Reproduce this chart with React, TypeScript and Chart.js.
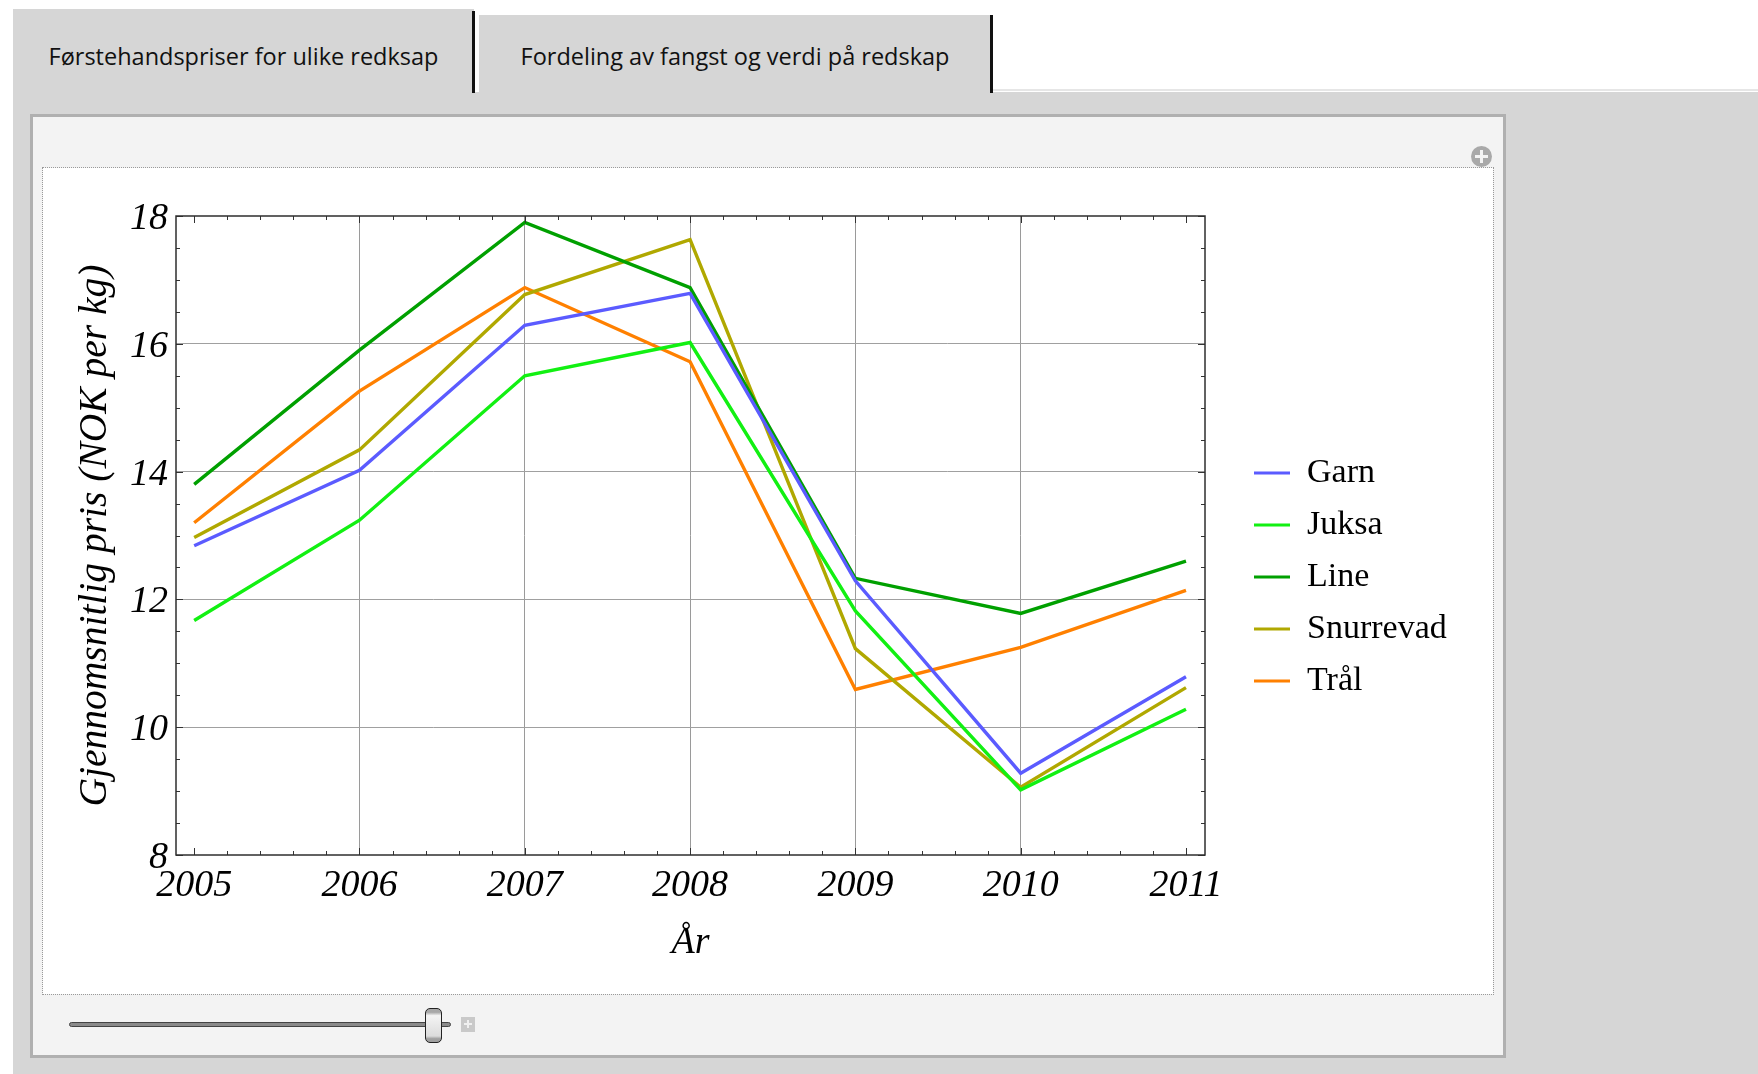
import React, { useEffect, useRef } from "react";
import { Chart, registerables } from "chart.js";

Chart.register(...registerables);

// ---- data ----
const YEARS = [2005, 2006, 2007, 2008, 2009, 2010, 2011];
const Y_TICKS = [8, 10, 12, 14, 16, 18];
const SERIES_NAMES = ["Garn", "Juksa", "Line", "Snurrevad", "Trål"];
const GARN = [12.84, 14.02, 16.29, 16.79, 12.29, 9.28, 10.79];
const JUKSA = [11.67, 13.24, 15.5, 16.02, 11.82, 9.02, 10.28];
const LINE = [13.8, 15.9, 17.9, 16.88, 12.33, 11.78, 12.6];
const SNURREVAD = [12.97, 14.34, 16.77, 17.63, 11.23, 9.06, 10.62];
const TRAL = [13.2, 15.26, 16.88, 15.72, 10.59, 11.25, 12.14];
const SERIES_VALUES = [GARN, JUKSA, LINE, SNURREVAD, TRAL];
const COLORS = ["#5b5bff", "#12f012", "#00a000", "#b0a800", "#ff8000"];

const TAB_LABELS = ["Førstehandspriser for ulike redksap", "Fordeling av fangst og verdi på redskap"];
const X_TITLE = "År";
const Y_TITLE = "Gjennomsnitlig pris (NOK per kg)";

const SERIF = "'Liberation Serif', 'Times New Roman', serif";
const SANS = "'Open Sans', 'Noto Sans', sans-serif";

const CANVAS_W = 1450;
const CANVAS_H = 826;
const LEGEND_FONT = 34;
const LEGEND_BOX = 36;
const LEGEND_PAD = 18;

const framePlugin = {
  id: "frameTicks",
  afterDatasetsDraw(chart: any) {
    const { ctx, chartArea: a, scales } = chart;
    const xs = scales.x;
    const ys = scales.y;
    ctx.save();
    ctx.strokeStyle = "#333";
    ctx.lineWidth = 1;
    const seg = (x1: number, y1: number, x2: number, y2: number) => {
      ctx.beginPath();
      ctx.moveTo(x1, y1);
      ctx.lineTo(x2, y2);
      ctx.stroke();
    };
    for (const yr of YEARS) {
      for (let k = 0; k < 5; k++) {
        const v = yr + k * 0.2;
        if (v > xs.max || v < xs.min) continue;
        const px = Math.round(xs.getPixelForValue(v)) + 0.5;
        const len = k === 0 ? 7 : 4;
        seg(px, a.bottom, px, a.bottom - len);
        seg(px, a.top, px, a.top + len);
      }
    }
    for (const t of Y_TICKS) {
      for (let k = 0; k < 4; k++) {
        const v = t + k * 0.5;
        if (v > ys.max) continue;
        const py = Math.round(ys.getPixelForValue(v)) + 0.5;
        const len = k === 0 ? 7 : 4;
        seg(a.left, py, a.left + len, py);
        seg(a.right, py, a.right - len, py);
      }
    }
    ctx.lineWidth = 1.5;
    ctx.strokeStyle = "#2e2e2e";
    ctx.strokeRect(a.left, a.top, a.right - a.left, a.bottom - a.top);
    ctx.restore();
  },
};

function PriceChart() {
  const ref = useRef<HTMLCanvasElement | null>(null);
  useEffect(() => {
    if (!ref.current) return;
    // measure legend width so the legend sits at a fixed spot
    const mctx = ref.current.getContext("2d") as CanvasRenderingContext2D;
    mctx.font = `${LEGEND_FONT}px ${SERIF}`;
    const maxText = Math.max(...SERIES_NAMES.map((n) => mctx.measureText(n).width));
    const legendW = LEGEND_PAD + LEGEND_BOX + LEGEND_FONT / 2 + maxText + 10;
    const chartRight = 1162;
    const spacer = 31;
    const rightPad = Math.max(0, CANVAS_W - chartRight - spacer - legendW);

    const datasets = SERIES_NAMES.map((name, i) => ({
      label: name,
      data: YEARS.map((yr, j) => ({ x: yr, y: SERIES_VALUES[i][j] })),
      borderColor: COLORS[i],
      backgroundColor: COLORS[i],
      borderWidth: 3.4,
      pointRadius: 0,
      tension: 0,
    }));
    const chart = new Chart(ref.current, {
      type: "line",
      data: { datasets },
      plugins: [framePlugin],
      options: {
        animation: false,
        responsive: false,
        events: [],
        layout: { padding: { top: 48, right: rightPad, bottom: 56, left: 0 } },
        plugins: {
          tooltip: { enabled: false },
          legend: {
            position: "right",
            align: "center",
            labels: {
              boxWidth: LEGEND_BOX,
              boxHeight: 3,
              padding: LEGEND_PAD,
              color: "#000",
              font: { family: SERIF, size: LEGEND_FONT },
              generateLabels: (c: any) =>
                (Chart as any).defaults.plugins.legend.labels
                  .generateLabels(c)
                  .map((l: any) => ({ ...l, lineWidth: 0, fillStyle: l.strokeStyle })),
            },
          },
        },
        scales: {
          x: {
            type: "linear",
            min: 2004.89,
            max: 2011.115,
            afterBuildTicks: (s: any) => {
              s.ticks = YEARS.map((v) => ({ value: v }));
            },
            afterFit: (s: any) => {
              s.height = 83;
            },
            ticks: {
              autoSkip: false,
              maxRotation: 0,
              padding: 8.5,
              color: "#000",
              font: { family: SERIF, size: 38, style: "italic" },
              callback: (v: any) => String(v),
            },
            grid: {
              drawTicks: false,
              lineWidth: 1,
              color: (c: any) =>
                c.tick && (c.tick.value === YEARS[0] || c.tick.value === YEARS[YEARS.length - 1])
                  ? "rgba(0,0,0,0)"
                  : "#9a9a9a",
            },
            border: { display: false },
            title: {
              display: true,
              text: X_TITLE,
              color: "#000",
              font: { family: SERIF, size: 38, style: "italic" },
              padding: { top: 0, bottom: -28 },
            },
          },
          y: {
            type: "linear",
            min: 8,
            max: 18,
            afterBuildTicks: (s: any) => {
              s.ticks = Y_TICKS.map((v) => ({ value: v }));
            },
            afterFit: (s: any) => {
              s.width = 133;
            },
            ticks: {
              padding: 8,
              labelOffset: 3,
              color: "#000",
              font: { family: SERIF, size: 38, style: "italic" },
              callback: (v: any) => String(v),
            },
            grid: {
              drawTicks: false,
              lineWidth: 1,
              color: (c: any) =>
                c.tick && (c.tick.value === Y_TICKS[0] || c.tick.value === Y_TICKS[Y_TICKS.length - 1])
                  ? "rgba(0,0,0,0)"
                  : "#a0a0a0",
            },
            border: { display: false },
            title: {
              display: true,
              text: Y_TITLE,
              color: "#000",
              font: { family: SERIF, size: 39.5, style: "italic" },
              padding: { top: 29, bottom: 0 },
            },
          },
          y2: {
            type: "linear",
            position: "right",
            afterFit: (s: any) => {
              s.width = spacer;
            },
            ticks: { display: false },
            grid: { display: false, drawOnChartArea: false },
            border: { display: false },
          },
        },
      } as any,
    });
    return () => chart.destroy();
  }, []);
  return (
    <canvas
      ref={ref}
      width={CANVAS_W}
      height={CANVAS_H}
      style={{ display: "block", width: CANVAS_W, height: CANVAS_H }}
    />
  );
}

export default function App() {
  const abs = (o: any) => ({ position: "absolute", ...o });
  const tabText = {
    display: "flex",
    alignItems: "center",
    justifyContent: "center",
    fontFamily: SANS,
    fontSize: 23.5,
    color: "#111",
    boxSizing: "border-box",
    whiteSpace: "nowrap",
  };
  return (
    <div style={abs({ left: 0, top: 0, width: 1758, height: 1074, background: "#fff", overflow: "hidden" })}>
      <div style={abs({ left: 13, top: 92, width: 1745, height: 982, background: "#d6d6d6" })} />
      <div style={abs({ left: 993, top: 89, width: 765, height: 2, background: "#e6e6e6" })} />
      <div style={abs({ left: 13, top: 9, width: 461, height: 84, background: "#d6d6d6", paddingTop: 10, ...tabText })}>
        {TAB_LABELS[0]}
      </div>
      <div style={abs({ left: 472, top: 11, width: 3, height: 82, background: "#111" })} />
      <div style={abs({ left: 479, top: 15, width: 512, height: 78, background: "#d6d6d6", paddingTop: 4, ...tabText })}>
        {TAB_LABELS[1]}
      </div>
      <div style={abs({ left: 990, top: 15, width: 3, height: 78, background: "#111" })} />
      <div
        style={abs({
          left: 30,
          top: 114,
          width: 1476,
          height: 944,
          background: "#f3f3f3",
          border: "3px solid #b0b0b0",
          boxSizing: "border-box",
        })}
      />
      <div style={abs({ left: 1471, top: 146, width: 21, height: 21, borderRadius: "50%", background: "#a9a9a9" })}>
        <div style={abs({ left: 4, top: 9, width: 13, height: 3, background: "#f3f3f3" })} />
        <div style={abs({ left: 9, top: 4, width: 3, height: 13, background: "#f3f3f3" })} />
      </div>
      <div style={abs({ left: 43, top: 168, width: CANVAS_W, height: CANVAS_H, background: "#fff" })}>
        <PriceChart />
      </div>
      <div
        style={abs({
          left: 42,
          top: 167,
          width: 1452,
          height: 828,
          border: "1px dotted #9a9a9a",
          boxSizing: "border-box",
          pointerEvents: "none",
        })}
      />
      <div
        style={abs({
          left: 69,
          top: 1022,
          width: 382,
          height: 5,
          background: "#8a8a8a",
          border: "1px solid #444",
          borderRadius: 3,
          boxSizing: "border-box",
        })}
      />
      <div
        style={abs({
          left: 425,
          top: 1008,
          width: 17,
          height: 35,
          borderRadius: 5,
          border: "1.5px solid #222",
          boxSizing: "border-box",
          background:
            "linear-gradient(to bottom, #a8a8a8 0%, #a8a8a8 10%, #f4f4f4 20%, #dcdcdc 82%, #a0a0a0 90%, #a0a0a0 100%)",
        })}
      />
      <div style={abs({ left: 461, top: 1017, width: 14, height: 15, background: "#c9c9c9" })}>
        <div style={abs({ left: 3, top: 6, width: 8, height: 2, background: "#f0f0f0" })} />
        <div style={abs({ left: 6, top: 3, width: 2, height: 8, background: "#f0f0f0" })} />
      </div>
    </div>
  );
}
